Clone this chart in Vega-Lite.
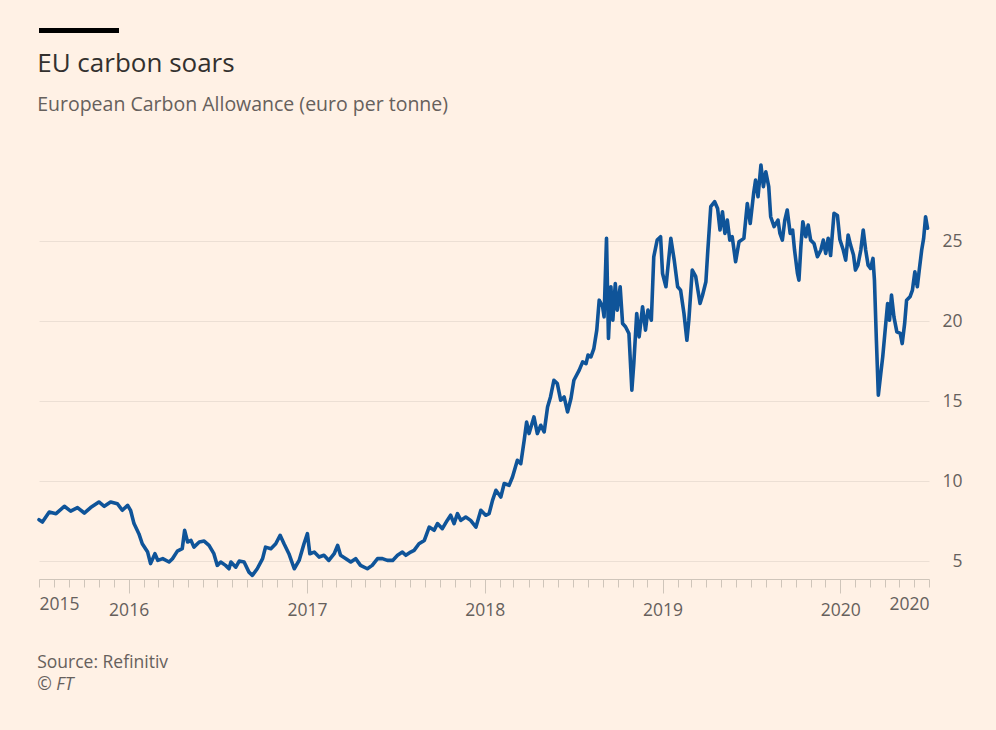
{
  "$schema": "https://vega.github.io/schema/vega-lite/v6.json",
  "background": "#fff1e5",
  "padding": {"left": 37, "top": 28, "right": 34, "bottom": 40},
  "title": {
    "text": "Source: Refinitiv",
    "subtitle": "© FT",
    "orient": "bottom",
    "anchor": "start",
    "fontSize": 17.5,
    "fontWeight": "normal",
    "color": "#66605c",
    "subtitleFontSize": 17.5,
    "subtitleColor": "#66605c",
    "subtitleFontStyle": "italic",
    "subtitlePadding": 5,
    "offset": 35
  },
  "spacing": 17,
  "vconcat": [
    {
      "width": 80,
      "height": 5,
      "data": {"values": [{"k": "bar"}]},
      "mark": {"type": "rect", "color": "#000000"},
      "encoding": {}
    },
    {
      "width": 890,
      "height": 426,
      "title": {
        "text": "EU carbon soars",
        "subtitle": "European Carbon Allowance (euro per tonne)",
        "anchor": "start",
        "fontSize": 26,
        "fontWeight": "normal",
        "color": "#33302e",
        "subtitleFontSize": 19.5,
        "subtitleColor": "#66605c",
        "subtitlePadding": 19,
        "offset": 39
      },
      "data": {
        "values": [
          {"date": "2015-07-01", "price": 7.6},
          {"date": "2015-07-08", "price": 7.46},
          {"date": "2015-07-22", "price": 8.08},
          {"date": "2015-08-05", "price": 7.98},
          {"date": "2015-08-22", "price": 8.44},
          {"date": "2015-09-04", "price": 8.14},
          {"date": "2015-09-18", "price": 8.36},
          {"date": "2015-10-02", "price": 8.02},
          {"date": "2015-10-15", "price": 8.36},
          {"date": "2015-11-01", "price": 8.71},
          {"date": "2015-11-12", "price": 8.44},
          {"date": "2015-11-25", "price": 8.71},
          {"date": "2015-12-09", "price": 8.6},
          {"date": "2015-12-19", "price": 8.19},
          {"date": "2015-12-30", "price": 8.5},
          {"date": "2016-01-05", "price": 8.19},
          {"date": "2016-01-12", "price": 7.36},
          {"date": "2016-01-22", "price": 6.73},
          {"date": "2016-01-29", "price": 6.1},
          {"date": "2016-02-09", "price": 5.58},
          {"date": "2016-02-15", "price": 4.86},
          {"date": "2016-02-24", "price": 5.48},
          {"date": "2016-03-01", "price": 5.06},
          {"date": "2016-03-11", "price": 5.17},
          {"date": "2016-03-24", "price": 4.96},
          {"date": "2016-03-31", "price": 5.17},
          {"date": "2016-04-10", "price": 5.64},
          {"date": "2016-04-20", "price": 5.79},
          {"date": "2016-04-25", "price": 6.94},
          {"date": "2016-05-01", "price": 6.21},
          {"date": "2016-05-08", "price": 6.31},
          {"date": "2016-05-14", "price": 5.89},
          {"date": "2016-05-25", "price": 6.21},
          {"date": "2016-06-04", "price": 6.27},
          {"date": "2016-06-14", "price": 6.0},
          {"date": "2016-06-24", "price": 5.48},
          {"date": "2016-07-01", "price": 4.75},
          {"date": "2016-07-08", "price": 4.96},
          {"date": "2016-07-18", "price": 4.75},
          {"date": "2016-07-25", "price": 4.54},
          {"date": "2016-07-29", "price": 4.96},
          {"date": "2016-08-08", "price": 4.64},
          {"date": "2016-08-15", "price": 5.02},
          {"date": "2016-08-25", "price": 4.96},
          {"date": "2016-09-04", "price": 4.33},
          {"date": "2016-09-11", "price": 4.13},
          {"date": "2016-09-21", "price": 4.54},
          {"date": "2016-10-02", "price": 5.17},
          {"date": "2016-10-08", "price": 5.89},
          {"date": "2016-10-19", "price": 5.79},
          {"date": "2016-10-29", "price": 6.1},
          {"date": "2016-11-07", "price": 6.63},
          {"date": "2016-11-15", "price": 6.1},
          {"date": "2016-11-25", "price": 5.48},
          {"date": "2016-12-06", "price": 4.54},
          {"date": "2016-12-16", "price": 5.06},
          {"date": "2016-12-26", "price": 6.1},
          {"date": "2017-01-02", "price": 6.73},
          {"date": "2017-01-07", "price": 5.48},
          {"date": "2017-01-16", "price": 5.58},
          {"date": "2017-01-26", "price": 5.27},
          {"date": "2017-02-05", "price": 5.38},
          {"date": "2017-02-15", "price": 5.06},
          {"date": "2017-02-26", "price": 5.48},
          {"date": "2017-03-05", "price": 6.0},
          {"date": "2017-03-11", "price": 5.38},
          {"date": "2017-03-22", "price": 5.17},
          {"date": "2017-04-01", "price": 4.96},
          {"date": "2017-04-11", "price": 5.17},
          {"date": "2017-04-21", "price": 4.75},
          {"date": "2017-05-05", "price": 4.54},
          {"date": "2017-05-15", "price": 4.75},
          {"date": "2017-05-26", "price": 5.17},
          {"date": "2017-06-05", "price": 5.17},
          {"date": "2017-06-15", "price": 5.06},
          {"date": "2017-06-26", "price": 5.06},
          {"date": "2017-07-06", "price": 5.38},
          {"date": "2017-07-16", "price": 5.58},
          {"date": "2017-07-23", "price": 5.38},
          {"date": "2017-08-02", "price": 5.58},
          {"date": "2017-08-09", "price": 5.69},
          {"date": "2017-08-19", "price": 6.1},
          {"date": "2017-08-30", "price": 6.31},
          {"date": "2017-09-09", "price": 7.14},
          {"date": "2017-09-19", "price": 6.94},
          {"date": "2017-09-26", "price": 7.36},
          {"date": "2017-10-06", "price": 7.04},
          {"date": "2017-10-16", "price": 7.56},
          {"date": "2017-10-23", "price": 7.88},
          {"date": "2017-10-30", "price": 7.36},
          {"date": "2017-11-06", "price": 7.98},
          {"date": "2017-11-13", "price": 7.56},
          {"date": "2017-11-23", "price": 7.77},
          {"date": "2017-12-03", "price": 7.56},
          {"date": "2017-12-14", "price": 7.14},
          {"date": "2017-12-24", "price": 8.19},
          {"date": "2018-01-03", "price": 7.88},
          {"date": "2018-01-10", "price": 7.98},
          {"date": "2018-01-17", "price": 8.81},
          {"date": "2018-01-24", "price": 9.44},
          {"date": "2018-02-03", "price": 9.02},
          {"date": "2018-02-10", "price": 9.86},
          {"date": "2018-02-20", "price": 9.75},
          {"date": "2018-02-27", "price": 10.27},
          {"date": "2018-03-09", "price": 11.31},
          {"date": "2018-03-16", "price": 11.1},
          {"date": "2018-03-23", "price": 12.56},
          {"date": "2018-03-28", "price": 13.7},
          {"date": "2018-04-02", "price": 12.98},
          {"date": "2018-04-12", "price": 14.02},
          {"date": "2018-04-19", "price": 12.98},
          {"date": "2018-04-26", "price": 13.5},
          {"date": "2018-05-03", "price": 13.08},
          {"date": "2018-05-10", "price": 14.64},
          {"date": "2018-05-16", "price": 15.27},
          {"date": "2018-05-23", "price": 16.31},
          {"date": "2018-05-30", "price": 16.1},
          {"date": "2018-06-06", "price": 15.06},
          {"date": "2018-06-13", "price": 15.27},
          {"date": "2018-06-20", "price": 14.33},
          {"date": "2018-06-27", "price": 15.17},
          {"date": "2018-07-03", "price": 16.31},
          {"date": "2018-07-14", "price": 16.94},
          {"date": "2018-07-21", "price": 17.46},
          {"date": "2018-07-28", "price": 17.35},
          {"date": "2018-08-01", "price": 17.88},
          {"date": "2018-08-07", "price": 17.77},
          {"date": "2018-08-13", "price": 18.29},
          {"date": "2018-08-19", "price": 19.44},
          {"date": "2018-08-24", "price": 21.31},
          {"date": "2018-08-31", "price": 20.9},
          {"date": "2018-09-03", "price": 20.27},
          {"date": "2018-09-08", "price": 25.17},
          {"date": "2018-09-12", "price": 18.92},
          {"date": "2018-09-17", "price": 22.15},
          {"date": "2018-09-21", "price": 20.06},
          {"date": "2018-09-26", "price": 22.35},
          {"date": "2018-09-30", "price": 20.69},
          {"date": "2018-10-06", "price": 22.15},
          {"date": "2018-10-11", "price": 19.85},
          {"date": "2018-10-17", "price": 19.65},
          {"date": "2018-10-24", "price": 19.23},
          {"date": "2018-10-30", "price": 15.69},
          {"date": "2018-11-03", "price": 17.35},
          {"date": "2018-11-09", "price": 20.48},
          {"date": "2018-11-14", "price": 19.02},
          {"date": "2018-11-21", "price": 20.9},
          {"date": "2018-11-27", "price": 19.44},
          {"date": "2018-12-02", "price": 20.69},
          {"date": "2018-12-09", "price": 20.06},
          {"date": "2018-12-14", "price": 24.02},
          {"date": "2018-12-21", "price": 25.06},
          {"date": "2018-12-28", "price": 25.27},
          {"date": "2019-01-01", "price": 22.98},
          {"date": "2019-01-08", "price": 22.15},
          {"date": "2019-01-18", "price": 25.17},
          {"date": "2019-01-25", "price": 23.81},
          {"date": "2019-02-01", "price": 22.15},
          {"date": "2019-02-07", "price": 21.94},
          {"date": "2019-02-14", "price": 20.48},
          {"date": "2019-02-20", "price": 18.81},
          {"date": "2019-02-24", "price": 20.06},
          {"date": "2019-03-03", "price": 23.19},
          {"date": "2019-03-10", "price": 22.8},
          {"date": "2019-03-19", "price": 21.1},
          {"date": "2019-03-24", "price": 21.6},
          {"date": "2019-03-31", "price": 22.46},
          {"date": "2019-04-04", "price": 24.44},
          {"date": "2019-04-10", "price": 27.15},
          {"date": "2019-04-18", "price": 27.46},
          {"date": "2019-04-24", "price": 27.04},
          {"date": "2019-04-29", "price": 25.69},
          {"date": "2019-05-04", "price": 26.83},
          {"date": "2019-05-09", "price": 25.48},
          {"date": "2019-05-14", "price": 26.31},
          {"date": "2019-05-19", "price": 25.06},
          {"date": "2019-05-24", "price": 25.27},
          {"date": "2019-05-31", "price": 23.71},
          {"date": "2019-06-07", "price": 24.96},
          {"date": "2019-06-17", "price": 25.17},
          {"date": "2019-06-24", "price": 27.35},
          {"date": "2019-06-30", "price": 26.1},
          {"date": "2019-07-07", "price": 27.98},
          {"date": "2019-07-11", "price": 28.81},
          {"date": "2019-07-16", "price": 27.77},
          {"date": "2019-07-22", "price": 29.75},
          {"date": "2019-07-27", "price": 28.4},
          {"date": "2019-08-01", "price": 29.33},
          {"date": "2019-08-07", "price": 28.4},
          {"date": "2019-08-11", "price": 26.52},
          {"date": "2019-08-18", "price": 25.9},
          {"date": "2019-08-26", "price": 26.31},
          {"date": "2019-08-30", "price": 25.48},
          {"date": "2019-09-04", "price": 25.06},
          {"date": "2019-09-09", "price": 26.31},
          {"date": "2019-09-14", "price": 26.94},
          {"date": "2019-09-20", "price": 25.48},
          {"date": "2019-09-25", "price": 25.69},
          {"date": "2019-09-29", "price": 24.44},
          {"date": "2019-10-05", "price": 22.98},
          {"date": "2019-10-08", "price": 22.56},
          {"date": "2019-10-12", "price": 24.65},
          {"date": "2019-10-16", "price": 26.21},
          {"date": "2019-10-22", "price": 25.27},
          {"date": "2019-10-27", "price": 26.0},
          {"date": "2019-11-01", "price": 25.06},
          {"date": "2019-11-08", "price": 24.85},
          {"date": "2019-11-15", "price": 24.02},
          {"date": "2019-11-22", "price": 24.44},
          {"date": "2019-11-27", "price": 25.06},
          {"date": "2019-12-02", "price": 24.23},
          {"date": "2019-12-07", "price": 25.17},
          {"date": "2019-12-12", "price": 24.1},
          {"date": "2019-12-19", "price": 26.73},
          {"date": "2019-12-26", "price": 26.6},
          {"date": "2019-12-31", "price": 25.1},
          {"date": "2020-01-07", "price": 24.44},
          {"date": "2020-01-12", "price": 23.81},
          {"date": "2020-01-17", "price": 25.38},
          {"date": "2020-01-22", "price": 24.75},
          {"date": "2020-01-28", "price": 24.13},
          {"date": "2020-02-01", "price": 23.19},
          {"date": "2020-02-06", "price": 23.5},
          {"date": "2020-02-12", "price": 24.44},
          {"date": "2020-02-17", "price": 25.69},
          {"date": "2020-02-22", "price": 24.44},
          {"date": "2020-02-27", "price": 23.5},
          {"date": "2020-03-03", "price": 23.29},
          {"date": "2020-03-08", "price": 23.92},
          {"date": "2020-03-11", "price": 22.56},
          {"date": "2020-03-15", "price": 18.81},
          {"date": "2020-03-19", "price": 15.38},
          {"date": "2020-03-24", "price": 16.73},
          {"date": "2020-03-28", "price": 17.77},
          {"date": "2020-04-02", "price": 19.44},
          {"date": "2020-04-07", "price": 21.1},
          {"date": "2020-04-11", "price": 20.06},
          {"date": "2020-04-15", "price": 21.63},
          {"date": "2020-04-20", "price": 20.27},
          {"date": "2020-04-26", "price": 19.33},
          {"date": "2020-05-03", "price": 19.23},
          {"date": "2020-05-07", "price": 18.6},
          {"date": "2020-05-12", "price": 19.85},
          {"date": "2020-05-16", "price": 21.31},
          {"date": "2020-05-23", "price": 21.52},
          {"date": "2020-05-28", "price": 21.94},
          {"date": "2020-06-02", "price": 23.08},
          {"date": "2020-06-07", "price": 22.15},
          {"date": "2020-06-11", "price": 23.19},
          {"date": "2020-06-16", "price": 24.44},
          {"date": "2020-06-20", "price": 25.17},
          {"date": "2020-06-24", "price": 26.52},
          {"date": "2020-06-28", "price": 25.8}
        ]
      },
      "mark": {"type": "line", "color": "#0f5499", "strokeWidth": 3.6, "strokeJoin": "round", "strokeCap": "round"},
      "encoding": {
        "x": {
          "field": "date",
          "type": "temporal",
          "scale": {"domain": [{"year": 2015, "month": 7, "date": 1}, {"year": 2020, "month": 7, "date": 1}], "nice": false},
          "axis": {
            "orient": "bottom",
            "title": null,
            "grid": false,
            "tickCount": {"interval": "month", "step": 1},
            "labelExpr": "(month(datum.value) == 0 || datum.index == 0 || datum.index == 1) ? timeFormat(datum.value, '%Y') : ''",
            "labelFlush": true,
            "labelOverlap": false,
            "labelBound": false,
            "tickSize": {"condition": {"test": "month(datum.value) == 0", "value": 14}, "value": 8},
            "tickColor": "#cfc5ba",
            "domainColor": "#cfc5ba",
            "labelFontSize": 17.5,
            "labelColor": "#66605c",
            "labelPadding": 8
          }
        },
        "y": {
          "field": "price",
          "type": "quantitative",
          "scale": {"domain": [3.9, 30.5], "nice": false, "zero": false},
          "axis": {
            "orient": "right",
            "title": null,
            "values": [5, 10, 15, 20, 25],
            "grid": true,
            "gridColor": "#ecdfd4",
            "domain": false,
            "ticks": false,
            "labelAlign": "right",
            "labelPadding": 33,
            "labelFontSize": 17.5,
            "labelColor": "#66605c"
          }
        }
      }
    }
  ],
  "config": {"view": {"stroke": null}, "font": "Open Sans"}
}
